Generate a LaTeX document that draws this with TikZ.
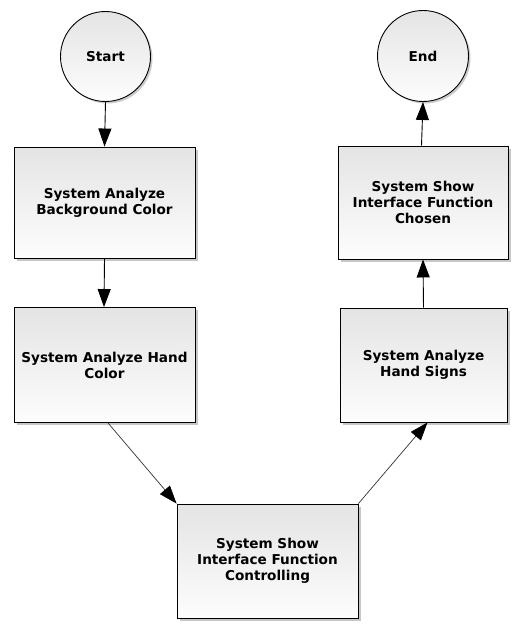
\documentclass[tikz,border=0pt]{standalone}
\usepackage{fontspec}
\setmainfont{DejaVu Sans}
\usetikzlibrary{arrows.meta,shadows,shapes.geometric}
\definecolor{boxtop}{RGB}{228,228,228}
\definecolor{boxbot}{RGB}{253,253,253}
\tikzset{
  stepbox/.style={draw=black, line width=0.9pt, rectangle, top color=boxtop, bottom color=boxbot,
    drop shadow={shadow xshift=2.5pt, shadow yshift=-2.5pt, opacity=0.22, fill=black},
    align=center, font=\fontsize{13.6}{16}\selectfont\bfseries, inner sep=0pt},
  termnode/.style={draw=black, line width=0.9pt, circle, top color=boxtop, bottom color=boxbot,
    drop shadow={shadow xshift=2pt, shadow yshift=-2pt, opacity=0.2, fill=black},
    minimum size=90pt, inner sep=0pt, font=\fontsize{13.6}{16}\selectfont\bfseries},
  flow/.style={draw=black, line width=0.9pt, -{Triangle[length=18pt,width=13pt]}},
  thinflow/.style={draw=black!80, line width=0.7pt, -{Triangle[length=18pt,width=13pt,color=black,fill=black]}}
}
\begin{document}
\begin{tikzpicture}[x=1pt,y=-1pt]
\useasboundingbox (0,0) rectangle (524,634);
\node[termnode] (start) at (105.5,56.5) {Start};
\node[termnode, minimum size=91pt] (end) at (423,56) {End};
\node[stepbox, minimum width=181pt, minimum height=111pt] (b1) at (104.5,202.5) {System Analyze\\Background Color};
\node[stepbox, minimum width=181pt, minimum height=115pt] (b2) at (104.5,365) {System Analyze Hand\\Color};
\node[stepbox, minimum width=181pt, minimum height=114pt] (b3) at (267.5,561) {System Show\\Interface Function\\Controlling};
\node[stepbox, minimum width=167pt, minimum height=114pt] (b4) at (423.5,365) {System Analyze\\Hand Signs};
\node[stepbox, minimum width=170pt, minimum height=113pt] (b5) at (423,202.5) {System Show\\Interface Function\\Chosen};
\draw[flow] (start.south) -- (b1.north);
\draw[flow] (b1.south) -- ([xshift=-0.5pt]b2.north);
\draw[thinflow] ([xshift=3.5pt]b2.south) -- (b3.north west);
\draw[thinflow] (b3.north east) -- ([xshift=4pt]b4.south);
\draw[flow] (b4.north) -- (b5.south);
\draw[flow] ([xshift=-1.5pt]b5.north) -- (end.south);
\end{tikzpicture}
\end{document}
